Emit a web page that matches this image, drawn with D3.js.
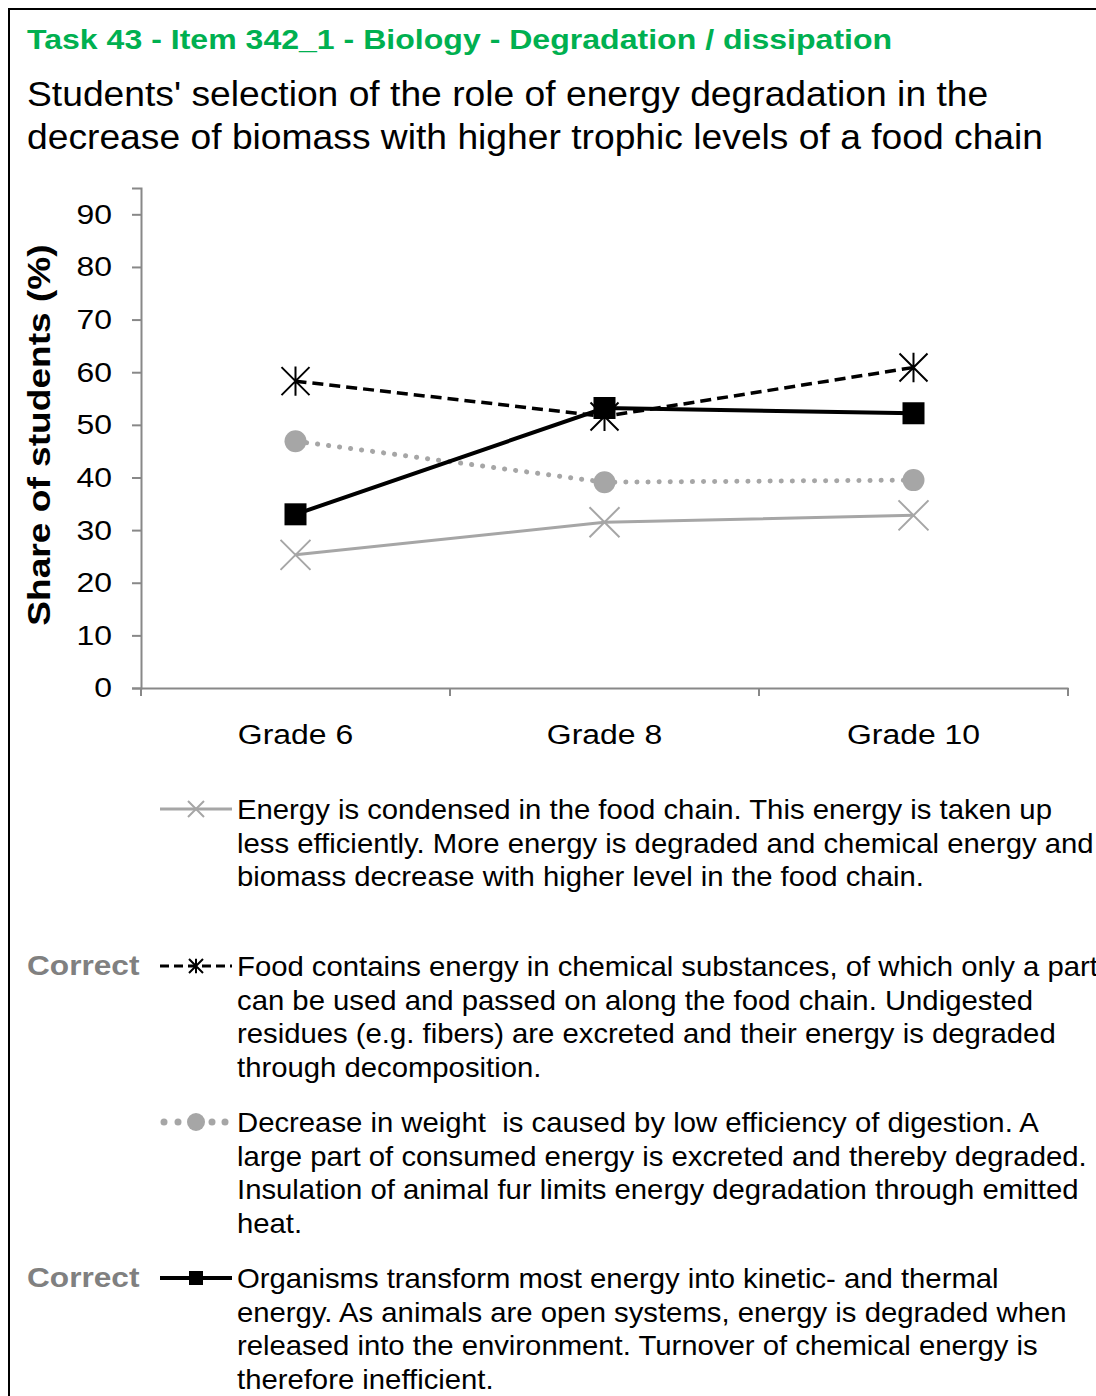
<!DOCTYPE html>
<html>
<head>
<meta charset="utf-8">
<script src="https://cdn.jsdelivr.net/npm/d3@7"></script>
<style>
  html, body { margin: 0; padding: 0; background: #fff; }
  svg { display: block; font-family: "Liberation Sans", Arial, sans-serif; }
</style>
</head>
<body>
<svg id="chart" width="1096" height="1396"></svg>
<script>
const titleText = "Task 43 - Item 342_1 - Biology - Degradation / dissipation";
const subtitleLines = [
  "Students' selection of the role of energy degradation in the",
  "decrease of biomass with higher trophic levels of a food chain"
];
const yAxisLabel = "Share of students (%)";
const categories = ["Grade 6", "Grade 8", "Grade 10"];
const yTicks = [0, 10, 20, 30, 40, 50, 60, 70, 80, 90];

const seriesCondensed = [25.3, 31.5, 32.8];
const seriesFood = [58.3, 51.6, 60.9];
const seriesDigestion = [46.9, 39.1, 39.5];
const seriesOrganisms = [33.0, 53.2, 52.2];

const legendCondensed = [
  "Energy is condensed in the food chain. This energy is taken up",
  "less efficiently. More energy is degraded and chemical energy and",
  "biomass decrease with higher level in the food chain."
];
const legendFood = [
  "Food contains energy in chemical substances, of which only a part",
  "can be used and passed on along the food chain. Undigested",
  "residues (e.g. fibers) are excreted and their energy is degraded",
  "through decomposition."
];
const legendDigestion = [
  "Decrease in weight  is caused by low efficiency of digestion. A",
  "large part of consumed energy is excreted and thereby degraded.",
  "Insulation of animal fur limits energy degradation through emitted",
  "heat."
];
const legendOrganisms = [
  "Organisms transform most energy into kinetic- and thermal",
  "energy. As animals are open systems, energy is degraded when",
  "released into the environment. Turnover of chemical energy is",
  "therefore inefficient."
];
const correctLabel = "Correct";

const GRAY = "#A6A6A6";
const series = [
  { values: seriesCondensed, color: GRAY, width: 3, dash: null, marker: "x", legend: legendCondensed, correct: false, legendY: 809 },
  { values: seriesFood, color: "#000", width: 3.5, dash: "11,6", marker: "star", legend: legendFood, correct: true, legendY: 966 },
  { values: seriesDigestion, color: GRAY, width: 5, dash: "0.1,11", cap: "round", marker: "circle", legend: legendDigestion, correct: false, legendY: 1122 },
  { values: seriesOrganisms, color: "#000", width: 4, dash: null, marker: "square", legend: legendOrganisms, correct: true, legendY: 1278 }
];

const svg = d3.select("#chart");

// frame
svg.append("path")
  .attr("d", "M9,1400 L9,9 L1100,9")
  .attr("fill", "none").attr("stroke", "#000").attr("stroke-width", 2);

function stretchedText(parent, x, y, sx) {
  return parent.append("text").attr("transform", `translate(${x},${y}) scale(${sx},1)`);
}

// title
stretchedText(svg, 27, 49, 1.125)
  .attr("font-size", 28.5).attr("font-weight", "bold").attr("fill", "#00B050")
  .text(titleText);
subtitleLines.forEach((t, i) => {
  stretchedText(svg, 27, 106 + i * 43, 1.064)
    .attr("font-size", 35).attr("fill", "#000").text(t);
});

const x = d3.scaleBand().domain(categories).range([141, 1068]);
const y = d3.scaleLinear().domain([0, 95]).range([688, 188]);

const tickSx = 1.14;
// y axis
const yAxis = svg.append("g").attr("transform", "translate(141,0)")
  .call(d3.axisLeft(y).tickValues(yTicks).tickSize(9).tickPadding(20).tickFormat(d3.format("d")));
yAxis.select(".domain").attr("stroke", "#888").attr("stroke-width", 2);
yAxis.selectAll(".tick line").attr("stroke", "#888").attr("stroke-width", 2);
yAxis.selectAll(".tick text").attr("font-size", 28).attr("fill", "#000")
  .attr("font-family", "Liberation Sans, Arial, sans-serif")
  .attr("x", -29 / tickSx).attr("transform", `scale(${tickSx},1)`);

// x axis
const xAxis = svg.append("g").attr("transform", "translate(0,688)")
  .call(d3.axisBottom(x).tickSize(0).tickPadding(36));
xAxis.select(".domain").attr("stroke", "#888").attr("stroke-width", 2);
xAxis.selectAll(".tick text").attr("font-size", 28).attr("fill", "#000")
  .attr("font-family", "Liberation Sans, Arial, sans-serif")
  .attr("transform", `scale(${tickSx},1)`);
// category boundary ticks
const bounds = categories.map(c => x(c)).concat([x(categories[categories.length - 1]) + x.bandwidth()]);
xAxis.selectAll(".bound").data(bounds).join("line").attr("class", "bound")
  .attr("x1", d => d).attr("x2", d => d).attr("y1", 0).attr("y2", 8)
  .attr("stroke", "#888").attr("stroke-width", 2);

// y label
svg.append("text")
  .attr("transform", "translate(50,435) rotate(-90) scale(1.16,1)")
  .attr("text-anchor", "middle").attr("font-size", 32).attr("font-weight", "bold")
  .text(yAxisLabel);

function drawMarker(g, type, cx, cy, s, color) {
  if (type === "x") {
    g.append("path").attr("d", `M${cx - s},${cy - s}L${cx + s},${cy + s}M${cx - s},${cy + s}L${cx + s},${cy - s}`)
      .attr("stroke", color).attr("stroke-width", 2).attr("fill", "none");
  } else if (type === "star") {
    g.append("path").attr("d", `M${cx - s},${cy - s}L${cx + s},${cy + s}M${cx - s},${cy + s}L${cx + s},${cy - s}M${cx},${cy - s * 1.05}L${cx},${cy + s * 1.05}`)
      .attr("stroke", color).attr("stroke-width", 2).attr("fill", "none");
  } else if (type === "circle") {
    g.append("circle").attr("cx", cx).attr("cy", cy).attr("r", s).attr("fill", color);
  } else if (type === "square") {
    g.append("rect").attr("x", cx - s).attr("y", cy - s).attr("width", 2 * s).attr("height", 2 * s).attr("fill", color);
  }
}
const markerSize = { x: 15, star: 14, circle: 11, square: 11 };
const legendMarkerSize = { x: 8, star: 7, circle: 9, square: 7 };

const line = d3.line().x((d, i) => x(categories[i]) + x.bandwidth() / 2).y(d => y(d));
series.forEach(s => {
  const g = svg.append("g");
  g.append("path").datum(s.values).attr("d", line)
    .attr("fill", "none").attr("stroke", s.color).attr("stroke-width", s.width)
    .attr("stroke-dasharray", s.dash).attr("stroke-linecap", s.cap || "butt");
  s.values.forEach((v, i) => drawMarker(g, s.marker, x(categories[i]) + x.bandwidth() / 2, y(v), markerSize[s.marker], s.color));
});

// legend
const legendSx = 1.085;
series.forEach(s => {
  const g = svg.append("g");
  const ly = s.legendY;
  if (s.marker === "circle") {
    [164, 178, 212, 225].forEach(cx => g.append("circle").attr("cx", cx).attr("cy", ly).attr("r", 3.5).attr("fill", s.color));
  } else if (s.dash) {
    g.append("path").attr("d", `M160,${ly}L232,${ly}`).attr("stroke", s.color).attr("stroke-width", 3).attr("stroke-dasharray", "9,5");
  } else {
    g.append("path").attr("d", `M160,${ly}L232,${ly}`).attr("stroke", s.color).attr("stroke-width", s.width === 3 ? 3 : 4);
  }
  drawMarker(g, s.marker, 196, ly, legendMarkerSize[s.marker], s.color);
  s.legend.forEach((t, i) => {
    stretchedText(g, 237, ly + 10 + i * 33.7, legendSx)
      .attr("font-size", 27).attr("fill", "#000")
      .attr("xml:space", "preserve")
      .text(t);
  });
  if (s.correct) {
    stretchedText(g, 27, ly + 9, 1.13)
      .attr("font-size", 28).attr("font-weight", "bold").attr("fill", "#808080")
      .text(correctLabel);
  }
});
</script>
</body>
</html>
